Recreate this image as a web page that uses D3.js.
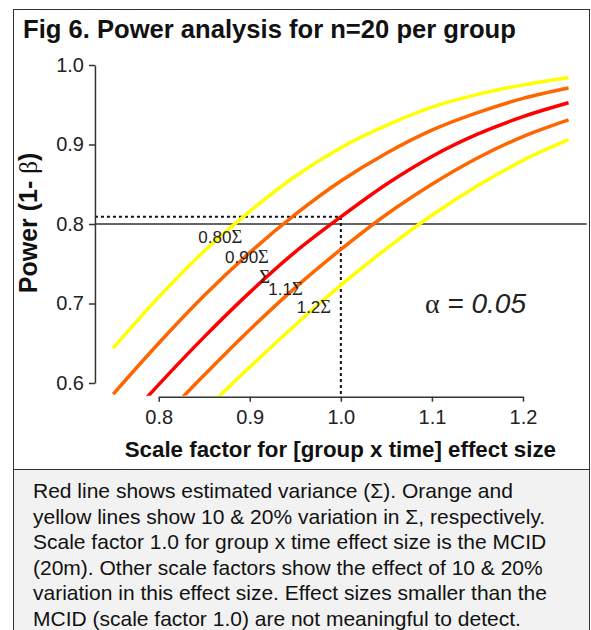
<!DOCTYPE html>
<html>
<head>
<meta charset="utf-8">
<script src="https://cdn.jsdelivr.net/npm/d3@7"></script>
<style>
  body { margin: 0; background: #fff; }
  svg { display: block; font-family: "Liberation Sans", Arial, sans-serif; }
</style>
</head>
<body>
<svg id="chart" width="591" height="630"></svg>
<script>
// Scale factor grid and power values
const scaleFactor = [0.75, 0.80, 0.85, 0.90, 0.95, 1.00, 1.05, 1.10, 1.15, 1.20, 1.25];
const power080 = [0.644, 0.708, 0.766, 0.816, 0.860, 0.896, 0.924, 0.947, 0.963, 0.975, 0.984];
const power090 = [0.586, 0.650, 0.710, 0.764, 0.812, 0.854, 0.889, 0.918, 0.940, 0.958, 0.971];
const power100 = [0.535, 0.598, 0.658, 0.714, 0.765, 0.809, 0.850, 0.885, 0.913, 0.935, 0.9525];
const power110 = [0.491, 0.551, 0.610, 0.667, 0.720, 0.768, 0.812, 0.850, 0.883, 0.910, 0.931];
const power120 = [0.453, 0.508, 0.565, 0.620, 0.673, 0.723, 0.769, 0.811, 0.848, 0.880, 0.906];

const seriesNames = ['0.80Σ', '0.90Σ', 'Σ', '1.1Σ', '1.2Σ'];
const seriesColors = ['#ffff00', '#ff6600', '#ff0000', '#ff6600', '#ffff00'];
const seriesValues = [power080, power090, power100, power110, power120];

const xTicks = [0.8, 0.9, 1.0, 1.1, 1.2];
const yTicks = [0.6, 0.7, 0.8, 0.9, 1.0];
const targetPower = 0.8;
const mcid = 1.0;
const mcidPower = 0.809;

const titleText = 'Fig 6. Power analysis for n=20 per group';
const xTitle = 'Scale factor for [group x time] effect size';
const captionLines = [
  'Red line shows estimated variance (Σ). Orange and',
  'yellow lines show 10 & 20% variation in Σ, respectively.',
  'Scale factor 1.0 for group x time effect size is the MCID',
  '(20m). Other scale factors show the effect of 10 & 20%',
  'variation in this effect size. Effect sizes smaller than the',
  'MCID (scale factor 1.0) are not meaningful to detect.'
];

const svg = d3.select('#chart');
const ink = '#222';

// frame + caption box
svg.append('rect')
  .attr('x', 13.5).attr('y', 469.5).attr('width', 576).attr('height', 170)
  .attr('fill', '#f2f2f2').attr('stroke', '#333').attr('stroke-width', 1);
svg.append('rect')
  .attr('x', 13.5).attr('y', 9.5).attr('width', 576).attr('height', 460)
  .attr('fill', '#fff').attr('stroke', '#333').attr('stroke-width', 1);

svg.append('text')
  .attr('x', 23).attr('y', 38)
  .style('font-size', '25.6px').style('font-weight', 'bold').style('fill', '#111')
  .text(titleText);

const x = d3.scaleLinear().domain([0.8, 1.2]).range([158.7, 523]);
const y = d3.scaleLinear().domain([0.6, 1.0]).range([383, 65]);

// plot region (R style: data range + 4%)
const plotLeft = x(0.73), plotRight = x(1.27);
const plotTop = y(1.016), plotBottom = y(0.584);

svg.append('clipPath').attr('id', 'plot-clip')
  .append('rect')
  .attr('x', plotLeft).attr('y', plotTop)
  .attr('width', plotRight - plotLeft).attr('height', plotBottom - plotTop);

// target power line
svg.append('line')
  .attr('x1', plotLeft).attr('x2', plotRight)
  .attr('y1', y(targetPower)).attr('y2', y(targetPower))
  .attr('stroke', '#333').attr('stroke-width', 1.5);

// dotted MCID guide
svg.append('path')
  .attr('d', `M${plotLeft},${y(mcidPower)}H${x(mcid)}V${plotBottom + 1}`)
  .attr('fill', 'none').attr('stroke', '#111').attr('stroke-width', 2)
  .attr('stroke-dasharray', '3,3');

const line = d3.line()
  .x((d, i) => x(scaleFactor[i]))
  .y(d => y(d))
  .curve(d3.curveMonotoneX);

svg.append('g')
  .attr('clip-path', 'url(#plot-clip)')
  .selectAll('path')
  .data(seriesValues)
  .enter().append('path')
  .attr('d', d => line(d))
  .attr('fill', 'none')
  .attr('stroke', (d, i) => seriesColors[i])
  .attr('stroke-width', 3.5);

// axes
const yAxis = svg.append('g')
  .attr('transform', `translate(${plotLeft},0)`)
  .call(d3.axisLeft(y).tickValues(yTicks).tickSize(6).tickSizeOuter(0)
    .tickPadding(5).tickFormat(d3.format('.1f')));
const xAxis = svg.append('g')
  .attr('transform', `translate(0,${plotBottom + 1})`)
  .call(d3.axisBottom(x).tickValues(xTicks).tickSize(5).tickSizeOuter(0)
    .tickPadding(8).tickFormat(d3.format('.1f')));

[yAxis, xAxis].forEach(g => {
  g.select('.domain').attr('stroke', '#333').attr('stroke-width', 1.5);
  g.selectAll('.tick line').attr('stroke', '#333').attr('stroke-width', 1.5);
  g.selectAll('.tick text')
    .style('font-family', '"Liberation Sans", Arial, sans-serif')
    .style('font-size', '20px').style('fill', ink);
});

svg.append('text')
  .attr('x', x(1.0) - 0.5).attr('y', 457)
  .attr('text-anchor', 'middle')
  .style('font-size', '22.3px').style('font-weight', 'bold').style('fill', '#111')
  .text(xTitle);

const yTitle = svg.append('text')
  .attr('transform', `translate(37,${(y(0.6) + y(1.0)) / 2 - 1}) rotate(-90)`)
  .attr('text-anchor', 'middle')
  .style('font-size', '25px').style('font-weight', 'bold').style('fill', '#111');
yTitle.append('tspan').text('Power (1- ');
yTitle.append('tspan').style('font-family', '"Liberation Serif", serif')
  .style('font-weight', 'normal').text('β');
yTitle.append('tspan').text(')');

// curve labels, anchored in data units
const labelPos = [[0.8435, 0.776], [0.8728, 0.7515], [0.9104, 0.7255], [0.9203, 0.7111], [0.9515, 0.6878]];
seriesNames.forEach((name, i) => {
  const t = svg.append('text')
    .attr('x', x(labelPos[i][0])).attr('y', y(labelPos[i][1]))
    .style('font-size', '17px').style('fill', ink);
  const num = name.replace('Σ', '');
  if (num) t.append('tspan').text(num);
  t.append('tspan').style('font-family', '"Liberation Serif", serif').style('font-size', '18.5px').text('Σ');
});

const alpha = svg.append('text')
  .attr('x', x(1.0923)).attr('y', y(0.6878))
  .style('font-size', '28px').style('fill', ink);
alpha.append('tspan').style('font-family', '"Liberation Serif", serif').text('α');
alpha.append('tspan').style('font-style', 'italic').text(' = 0.05');

// caption
svg.append('g').selectAll('text')
  .data(captionLines)
  .enter().append('text')
  .attr('x', 33)
  .attr('y', (d, i) => 498 + i * 25.6)
  .style('font-size', '21px').style('fill', '#111')
  .text(d => d);
</script>
</body>
</html>
